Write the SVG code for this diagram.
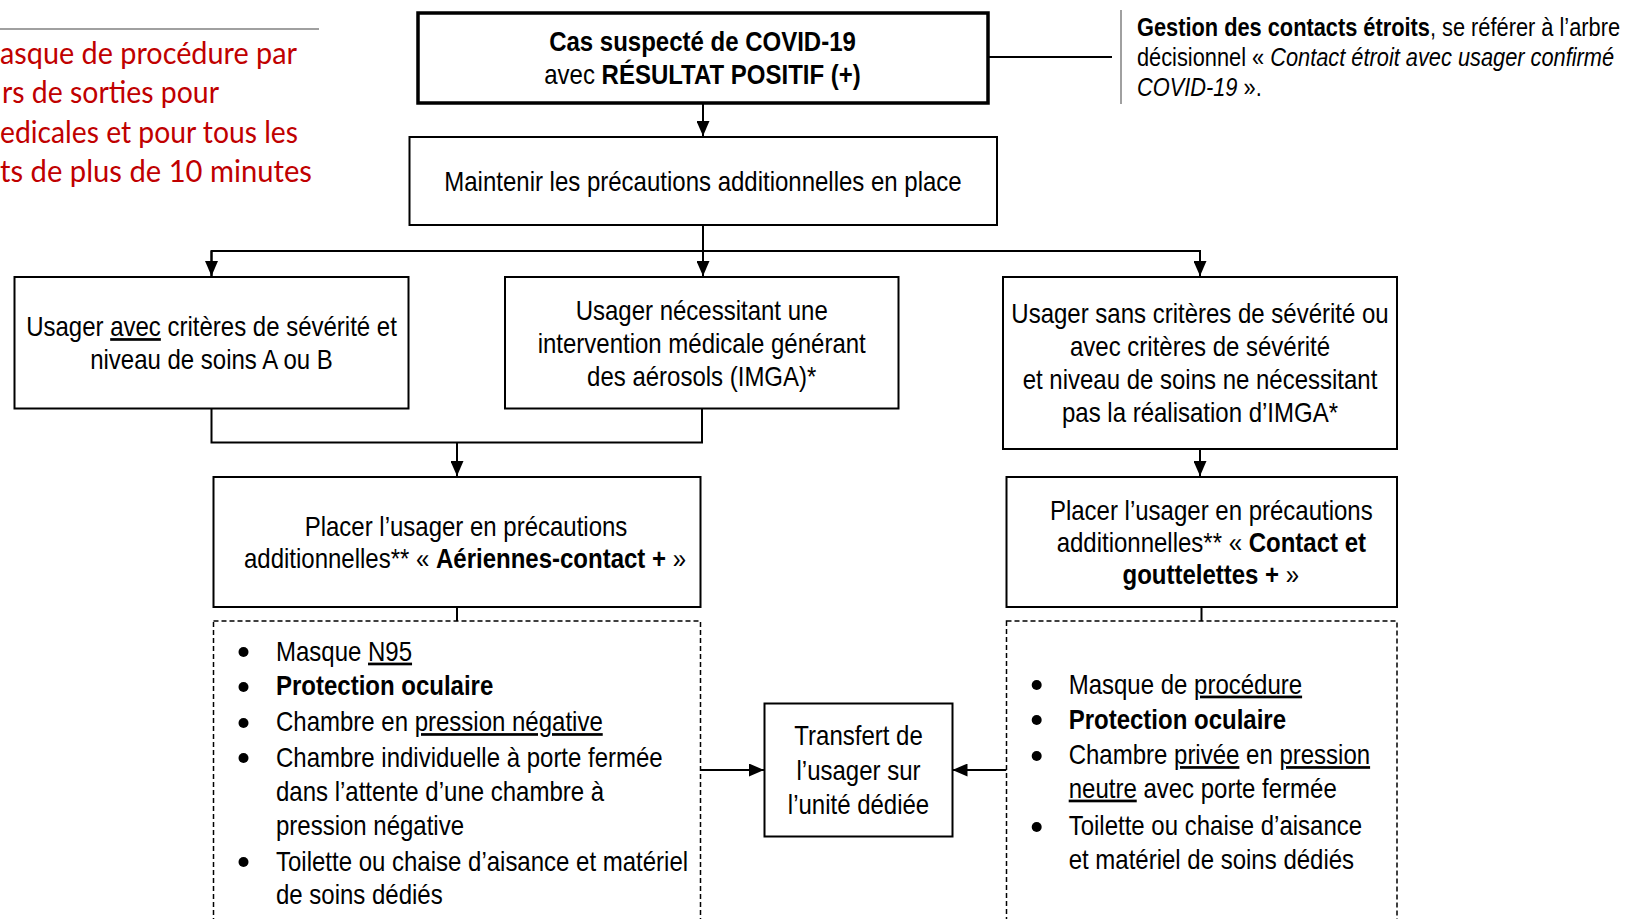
<svg xmlns="http://www.w3.org/2000/svg" width="1625" height="919" viewBox="0 0 1625 919">
<style>
.t{font-family:"Liberation Sans",Arial,sans-serif;font-size:27px;fill:#000}
.n{font-family:"Liberation Sans",Arial,sans-serif;font-size:25px;fill:#000}
.r{font-family:Lato,"Open Sans",sans-serif;font-size:30px;fill:#c00000}
.m{text-anchor:middle}
.b{font-weight:bold}
.i{font-style:italic}
.u{text-decoration:underline}
.box{fill:#fff;stroke:#000;stroke-width:2}
.thick{fill:#fff;stroke:#000;stroke-width:3.5}
.dash{fill:#fff;stroke:#000;stroke-width:1.5;stroke-dasharray:5 3}
.c{fill:none;stroke:#000;stroke-width:2}
</style>
<defs>
<marker id="ah" markerUnits="userSpaceOnUse" markerWidth="15" markerHeight="13" refX="15" refY="6.5" orient="auto">
<path d="M0,0 L15,6.5 L0,13 z" fill="#000"/>
</marker>
</defs>
<rect width="1625" height="919" fill="#fff"/>

<g id="note-red">
<line x1="0" y1="29" x2="319" y2="29" stroke="#808080" stroke-width="1.5"/>
<text class="r" x="297" y="64" text-anchor="end" textLength="297" lengthAdjust="spacingAndGlyphs">asque de procédure par</text>
<text class="r" x="219" y="103" text-anchor="end" textLength="217" lengthAdjust="spacingAndGlyphs">rs de sorties pour</text>
<text class="r" x="298" y="143" text-anchor="end" textLength="298" lengthAdjust="spacingAndGlyphs">edicales et pour tous les</text>
<text class="r" x="312" y="182" text-anchor="end" textLength="312" lengthAdjust="spacingAndGlyphs">ts de plus de 10 minutes</text>
</g>

<g id="connectors">
<line class="c" x1="988" y1="57" x2="1112" y2="57"/>
<line class="c" x1="703" y1="103" x2="703" y2="136" marker-end="url(#ah)"/>
<line class="c" x1="703" y1="225" x2="703" y2="276" marker-end="url(#ah)"/>
<polyline class="c" points="211.5,276 211.5,251 1200,251 1200,276" marker-end="url(#ah)"/>
<line class="c" x1="211.5" y1="251" x2="211.5" y2="276" marker-end="url(#ah)"/>
<polyline class="c" points="211.5,408 211.5,442.5 702,442.5 702,408"/>
<line class="c" x1="457" y1="442.5" x2="457" y2="476" marker-end="url(#ah)"/>
<line class="c" x1="1200" y1="449" x2="1200" y2="476" marker-end="url(#ah)"/>
<line class="c" x1="457" y1="607" x2="457" y2="621"/>
<line class="c" x1="1201.5" y1="607" x2="1201.5" y2="621"/>
<line class="c" x1="700.5" y1="770" x2="764" y2="770" marker-end="url(#ah)"/>
<line class="c" x1="1006.5" y1="770" x2="952.5" y2="770" marker-end="url(#ah)"/>
</g>

<g id="top">
<rect class="thick" x="418" y="13" width="570" height="90"/>
<text class="t b m" transform="translate(702.5,51) scale(0.889,1)">Cas suspecté de COVID-19</text>
<text class="t m" transform="translate(702.5,84) scale(0.889,1)">avec <tspan class="b">RÉSULTAT POSITIF (+)</tspan></text>
</g>

<g id="note-right">
<line x1="1121" y1="10" x2="1121" y2="104" stroke="#808080" stroke-width="1.5"/>
<text class="n" transform="translate(1137,36) scale(0.872,1)"><tspan class="b">Gestion des contacts étroits</tspan>, se référer à l’arbre</text>
<text class="n" transform="translate(1137,66) scale(0.872,1)">décisionnel « <tspan class="i">Contact étroit avec usager confirmé</tspan></text>
<text class="n" transform="translate(1137,96) scale(0.872,1)"><tspan class="i">COVID-19</tspan> ».</text>
</g>

<g id="maintenir">
<rect class="box" x="409.5" y="137" width="587.5" height="88"/>
<text class="t m" transform="translate(703,191) scale(0.889,1)">Maintenir les précautions additionnelles en place</text>
</g>

<g id="usager-avec">
<rect class="box" x="14.5" y="277" width="394" height="131.5"/>
<text class="t m" transform="translate(211.5,336) scale(0.889,1)">Usager <tspan class="u">avec</tspan> critères de sévérité et</text>
<text class="t m" transform="translate(211.5,369) scale(0.889,1)">niveau de soins A ou B</text>
</g>

<g id="usager-imga">
<rect class="box" x="505" y="277" width="393.5" height="131.5"/>
<text class="t m" transform="translate(701.7,320) scale(0.889,1)">Usager nécessitant une</text>
<text class="t m" transform="translate(701.7,353) scale(0.889,1)">intervention médicale générant</text>
<text class="t m" transform="translate(701.7,386) scale(0.889,1)">des aérosols (IMGA)*</text>
</g>

<g id="usager-sans">
<rect class="box" x="1003" y="277" width="394" height="172"/>
<text class="t m" transform="translate(1200,323) scale(0.889,1)">Usager sans critères de sévérité ou</text>
<text class="t m" transform="translate(1200,356) scale(0.889,1)">avec critères de sévérité</text>
<text class="t m" transform="translate(1200,389) scale(0.889,1)">et niveau de soins ne nécessitant</text>
<text class="t m" transform="translate(1200,422) scale(0.889,1)">pas la réalisation d’IMGA*</text>
</g>

<g id="aeriennes">
<rect class="box" x="213.5" y="477" width="487" height="130"/>
<text class="t m" transform="translate(466,535.5) scale(0.889,1)">Placer l’usager en précautions</text>
<text class="t m" transform="translate(465,568) scale(0.889,1)">additionnelles** « <tspan class="b">Aériennes-contact +</tspan> »</text>
</g>

<g id="aeriennes-liste">
<rect class="dash" x="213.5" y="621" width="487" height="320"/>
<g fill="#000">
<circle cx="243.5" cy="652" r="5"/>
<circle cx="243.5" cy="687" r="5"/>
<circle cx="243.5" cy="723" r="5"/>
<circle cx="243.5" cy="758" r="5"/>
<circle cx="243.5" cy="862" r="5"/>
</g>
<text class="t" transform="translate(276,660.5) scale(0.889,1)">Masque <tspan class="u">N95</tspan></text>
<text class="t b" transform="translate(276,695) scale(0.889,1)">Protection oculaire</text>
<text class="t" transform="translate(276,731) scale(0.889,1)">Chambre en <tspan class="u">pression négative</tspan></text>
<text class="t" transform="translate(276,766.5) scale(0.889,1)">Chambre individuelle à porte fermée</text>
<text class="t" transform="translate(276,801) scale(0.889,1)">dans l’attente d’une chambre à</text>
<text class="t" transform="translate(276,834.5) scale(0.889,1)">pression négative</text>
<text class="t" transform="translate(276,871) scale(0.889,1)">Toilette ou chaise d’aisance et matériel</text>
<text class="t" transform="translate(276,904) scale(0.889,1)">de soins dédiés</text>
</g>

<g id="transfert">
<rect class="box" x="764.5" y="703.5" width="188" height="133"/>
<text class="t m" transform="translate(858.5,745) scale(0.889,1)">Transfert de</text>
<text class="t m" transform="translate(858.5,779.5) scale(0.889,1)">l’usager sur</text>
<text class="t m" transform="translate(858.5,813.5) scale(0.889,1)">l’unité dédiée</text>
</g>

<g id="gouttelettes">
<rect class="box" x="1006.5" y="477" width="390.5" height="130"/>
<text class="t m" transform="translate(1211.3,519.5) scale(0.889,1)">Placer l’usager en précautions</text>
<text class="t m" transform="translate(1211.3,551.5) scale(0.889,1)">additionnelles** « <tspan class="b">Contact et</tspan></text>
<text class="t m" transform="translate(1210.8,583.5) scale(0.889,1)"><tspan class="b">gouttelettes +</tspan> »</text>
</g>

<g id="gouttelettes-liste">
<rect class="dash" x="1006.5" y="621" width="390.5" height="320"/>
<g fill="#000">
<circle cx="1036.7" cy="685" r="5"/>
<circle cx="1036.7" cy="720" r="5"/>
<circle cx="1036.7" cy="756" r="5"/>
<circle cx="1036.7" cy="827" r="5"/>
</g>
<text class="t" transform="translate(1068.7,693.5) scale(0.889,1)">Masque de <tspan class="u">procédure</tspan></text>
<text class="t b" transform="translate(1068.7,728.5) scale(0.889,1)">Protection oculaire</text>
<text class="t" transform="translate(1068.7,764) scale(0.889,1)">Chambre <tspan class="u">privée</tspan> en <tspan class="u">pression</tspan></text>
<text class="t" transform="translate(1068.7,797.5) scale(0.889,1)"><tspan class="u">neutre</tspan> avec porte fermée</text>
<text class="t" transform="translate(1068.7,835) scale(0.889,1)">Toilette ou chaise d’aisance</text>
<text class="t" transform="translate(1068.7,868.5) scale(0.889,1)">et matériel de soins dédiés</text>
</g>
</svg>
